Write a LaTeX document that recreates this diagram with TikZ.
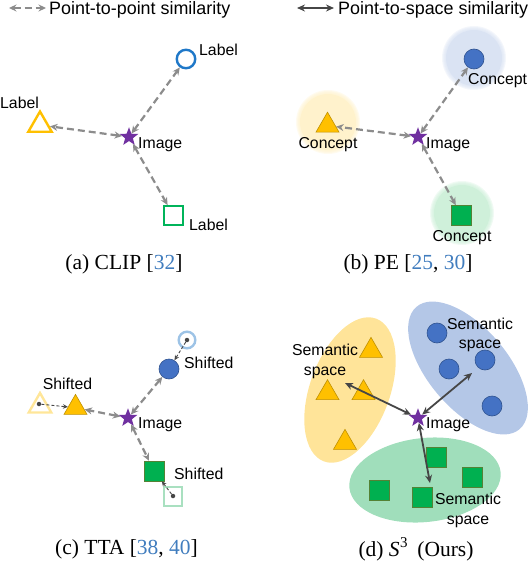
\documentclass[tikz,border=0pt]{standalone}
\usepackage{fontspec}
\setmainfont{Liberation Serif}
\newfontfamily\arialf{Liberation Sans}
\usetikzlibrary{arrows.meta,shapes.geometric}
\definecolor{arrgray}{RGB}{140,140,140}
\definecolor{darkarr}{RGB}{70,70,70}
\definecolor{starpurple}{RGB}{112,48,160}
\definecolor{oblue}{RGB}{31,120,200}
\definecolor{oyellow}{RGB}{255,192,0}
\definecolor{ogreen}{RGB}{0,180,90}
\definecolor{cblue}{RGB}{68,114,196}
\definecolor{cblueb}{RGB}{47,82,143}
\definecolor{cyellow}{RGB}{255,192,0}
\definecolor{cyellowb}{RGB}{191,144,0}
\definecolor{cgreen}{RGB}{0,176,80}
\definecolor{cgreenb}{RGB}{84,130,53}
\definecolor{gblue}{RGB}{218,227,243}
\definecolor{gyellow}{RGB}{255,242,204}
\definecolor{ggreen}{RGB}{207,240,218}
\definecolor{fblue}{RGB}{157,195,230}
\definecolor{fyellow}{RGB}{255,230,153}
\definecolor{fgreen}{RGB}{169,224,192}
\definecolor{eyellow}{RGB}{255,228,153}
\definecolor{eblue}{RGB}{180,199,231}
\definecolor{egreen}{RGB}{160,222,187}
\definecolor{citeblue}{RGB}{65,125,190}
\newcommand\citn[1]{\textcolor{citeblue}{#1}}
\tikzset{
  lbl/.style={font=\arialf\fontsize{15.8}{19}\selectfont, inner sep=0pt, text height=11.3pt, text depth=0pt},
  lbl2/.style={font=\arialf\fontsize{15.8}{19.5}\selectfont, inner sep=0pt, align=center},
  legendtxt/.style={font=\arialf\fontsize{17.9}{20}\selectfont, inner sep=0pt, text height=12.7pt, text depth=0pt, anchor=west},
  captxt/.style={font=\fontsize{21.5}{24}\selectfont, inner sep=0pt},
  starnode/.style={star, star points=5, star point ratio=2.4, minimum size=19.5pt, inner sep=0pt, fill=starpurple},
  ocirc/.style={circle, draw=#1, line width=2.4pt, minimum size=18.5pt, inner sep=0pt},
  otri/.style={regular polygon, regular polygon sides=3, draw=#1, line width=2.4pt, minimum size=27pt, inner sep=0pt},
  osq/.style={rectangle, draw=#1, line width=2.4pt, minimum size=18.5pt, inner sep=0pt},
  fcirc/.style={circle, fill=cblue, draw=cblueb, line width=0.6pt, minimum size=20pt, inner sep=0pt},
  ftri/.style={regular polygon, regular polygon sides=3, fill=cyellow, draw=cyellowb, line width=0.6pt, minimum size=26.6pt, inner sep=0pt},
  fsq/.style={rectangle, fill=cgreen, draw=cgreenb, line width=0.6pt, minimum size=20pt, inner sep=0pt},
  dotnode/.style={circle, fill=darkarr, minimum size=4.5pt, inner sep=0pt},
  simarr/.style={draw=arrgray, line width=2.2pt, dash pattern=on 7pt off 4pt, {Stealth[length=7.5pt,width=7pt]}-{Stealth[length=7.5pt,width=7pt]}},
  sparr/.style={draw=darkarr, line width=1.8pt, {Stealth[length=8pt,width=7pt]}-{Stealth[length=8pt,width=7pt]}},
  shiftarr/.style={draw=darkarr, line width=0.9pt, dash pattern=on 3pt off 2pt, -{Stealth[length=5pt,width=4.5pt]}},
}
\begin{document}
\begin{tikzpicture}[x=1pt,y=-1pt]
\useasboundingbox (0,0) rectangle (530,564);
% legend
\coordinate (lgA1) at (9,8); \coordinate (lgA2) at (46,8);
\draw[simarr] (lgA1) -- (lgA2);
\node[legendtxt] (lgT1) at (49,8) {Point-to-point similarity};
\coordinate (lgB1) at (297,8); \coordinate (lgB2) at (334,8);
\draw[sparr] (lgB1) -- (lgB2);
\node[legendtxt] (lgT2) at (338,8) {Point-to-space similarity};

% (a) CLIP
\node[starnode] (sa) at (129,137) {};
\node[ocirc=oblue] (ca) at (186,59) {};
\node[otri=oyellow] (ta) at (40,125) {};
\node[osq=ogreen] (qa) at (173.5,215.5) {};
\node[lbl, anchor=west] (la1) at (199,50) {Label};
\node[lbl, anchor=west] (la2) at (0,103) {Label};
\node[lbl, anchor=west] (la3) at (138,143) {Image};
\node[lbl, anchor=west] (la4) at (189,225) {Label};
\draw[simarr] (sa) -- (ca);
\draw[simarr] (sa) -- (ta);
\draw[simarr] (sa) -- (qa);
\node[captxt] (capa) at (124,264) {(a) CLIP [\citn{32}]};

% (b) PE
\foreach \gx/\gy/\gc in {474/58/gblue, 328/122/gyellow, 462/213/ggreen} {
  \foreach \r in {32,31,30,29} \fill[\gc, opacity=0.3] (\gx,\gy) circle (\r pt);
  \fill[\gc] (\gx,\gy) circle (28pt);
}
\node[fcirc] (cb) at (474,59) {};
\node[ftri] (tb) at (327.5,125.5) {};
\node[fsq] (qb) at (461.5,215.5) {};
\node[starnode] (sb) at (418,137) {};
\node[lbl, anchor=west] (lb1) at (468,79) {Concept};
\node[lbl] (lb2) at (328,143) {Concept};
\node[lbl, anchor=west] (lb3) at (426,143) {Image};
\node[lbl] (lb4) at (462,236) {Concept};
\draw[simarr] (sb) -- (cb);
\draw[simarr] (sb) -- (tb);
\draw[simarr] (sb) -- (qb);
\node[captxt] (capb) at (408,264) {(b) PE [\citn{25}, \citn{30}]};

% (c) TTA
\node[ocirc=fblue, minimum size=16.6pt] (cc0) at (187,340) {};
\node[otri=fyellow, minimum size=26pt] (tc0) at (40,406) {};
\node[osq=fgreen] (qc0) at (173,496.5) {};
\node[fcirc] (cc) at (169,369) {};
\node[ftri] (tc) at (75.5,407.7) {};
\node[fsq] (qc) at (154,471) {};
\node[dotnode] (dc1) at (187,340) {};
\node[dotnode] (dc2) at (39,404) {};
\node[dotnode] (dc3) at (173,496) {};
\node[starnode] (sc) at (128,418) {};
\node[lbl, anchor=west] (lc1) at (184,363) {Shifted};
\node[lbl] (lc2) at (67.5,384) {Shifted};
\node[lbl, anchor=west] (lc3) at (138,423) {Image};
\node[lbl, anchor=west] (lc4) at (174,474) {Shifted};
\draw[shiftarr] (dc1) -- (cc);
\draw[shiftarr] (dc2) -- (tc);
\draw[shiftarr] (dc3) -- (qc);
\draw[simarr] (sc) -- (cc);
\draw[simarr] (sc) -- (tc);
\draw[simarr] (sc) -- (qc);
\node[captxt] (capc) at (126.5,549) {(c) TTA [\citn{38}, \citn{40}]};

% (d) S3
\fill[eyellow, rotate around={70:(350,390)}] (350,390) ellipse (76 and 40);
\fill[eblue, rotate around={-50:(468,368)}] (468,368) ellipse (80 and 40);
\fill[egreen, rotate around={6:(425,480)}] (425,480) ellipse (76 and 42);
\node[ftri] (td1) at (371,350.7) {};
\node[ftri] (td2) at (327.5,393) {};
\node[ftri] (td3) at (363.5,393) {};
\node[ftri] (td4) at (345,442.7) {};
\node[fcirc] (cd1) at (437,333) {};
\node[fcirc] (cd2) at (449,369) {};
\node[fcirc] (cd3) at (485,360) {};
\node[fcirc] (cd4) at (492,406) {};
\node[fsq] (qd1) at (436,457) {};
\node[fsq] (qd2) at (472,477) {};
\node[fsq] (qd3) at (379,490) {};
\node[fsq] (qd4) at (422,497) {};
\node[starnode] (sd) at (418,418) {};
\coordinate (ey) at (345,383);
\coordinate (eb) at (472,373);
\coordinate (eg) at (430,483);
\node[lbl, anchor=west] (ld0) at (426,423) {Image};
\node[lbl2] (ld1) at (325,361.5) {Semantic\\space};
\node[lbl2] (ld2) at (480,335) {Semantic\\space};
\node[lbl2] (ld3) at (468,510.5) {Semantic\\space};
\draw[sparr] (sd) -- (ey);
\draw[sparr] (sd) -- (eb);
\draw[sparr] (sd) -- (eg);
\node[captxt] (capd) at (416,549) {(d) \textit{S}\kern0.5pt\raisebox{0.42em}{\fontsize{15}{15}\selectfont 3}\hspace{0.45em}(Ours)};
\end{tikzpicture}
\end{document}
